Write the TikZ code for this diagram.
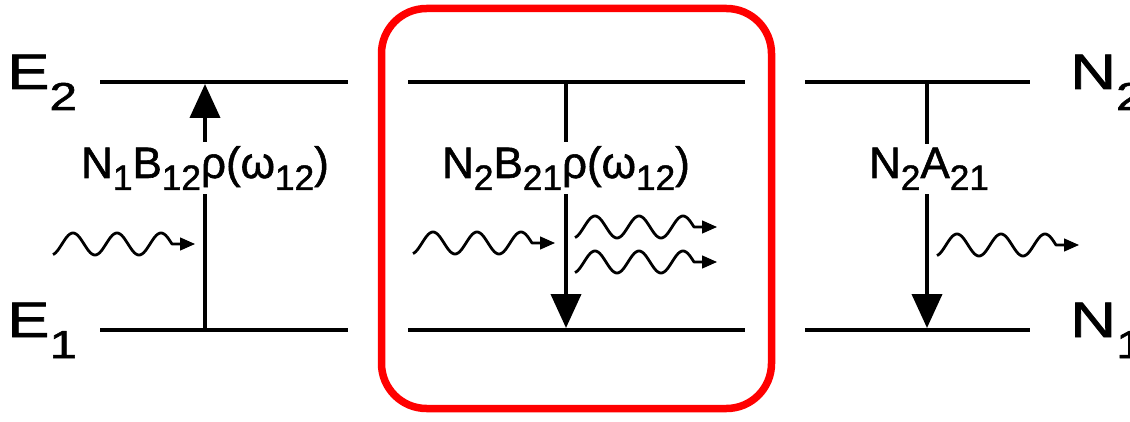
\documentclass[tikz,border=0pt]{standalone}
\usepackage{fontspec}
\setmainfont{Liberation Sans}[FakeBold=1.3]
\usetikzlibrary{arrows.meta}
\newcommand\lsub[1]{\raisebox{-0.27em}{\scalebox{0.8}{#1}}}
\newcommand\bsub[1]{\raisebox{-0.42em}{\scalebox{0.78}{#1}}}
\newcommand\photon[2]{%
  \draw[wave] plot[domain=0:119,samples=120] ({#1+\x},{#2-11*sin(8.1818*(\x-9))}) -- ({#1+128},{#2});
  \draw[wavetip] ({#1+126},{#2}) -- ({#1+142},{#2});
}
\tikzset{
  level/.style={line width=4pt},
  trans/.style={line width=4pt,-{Triangle[length=34pt,width=30pt]}},
  wave/.style={line width=2.8pt,line join=round},
  wavetip/.style={line width=1.4pt,-{Triangle[length=15pt,width=13pt]}},
  lbl/.style={fill=white,inner xsep=2pt,inner ysep=4pt,anchor=base,font=\fontsize{44}{50}\selectfont},
  big/.style={inner sep=0pt,anchor=base west,font=\fontsize{50}{56}\selectfont},
  box/.style={draw=red,line width=7.5pt,rounded corners=45pt}
}
\begin{document}
\begin{tikzpicture}[x=1pt,y=-1pt]
\useasboundingbox (0,0) rectangle (1130,422);
% red frame
\draw[box] (381.5,8.5) rectangle (771.5,408.5);
% level lines
\draw[level] (100,82) -- (348,82);
\draw[level] (100,330) -- (348,330);
\draw[level] (408,82) -- (745,82);
\draw[level] (408,330) -- (745,330);
\draw[level] (805,82) -- (1030,82);
\draw[level] (805,330) -- (1030,330);
% arrow end points
\coordinate (aLb) at (205,330);
\coordinate (aLt) at (205,84);
\coordinate (aMt) at (566,82);
\coordinate (aMb) at (566,328);
\coordinate (aRt) at (927,82);
\coordinate (aRb) at (927,328);
\draw[trans] (aLb) -- (aLt);
\draw[trans] (aMt) -- (aMb);
\draw[trans] (aRt) -- (aRb);
% labels
\node[lbl] (labL) at (205,178) {N\lsub{1}B\lsub{12}ρ(ω\lsub{12})};
\node[lbl] (labM) at (566,178) {N\lsub{2}B\lsub{21}ρ(ω\lsub{12})};
\node[lbl] (labR) at (929,178) {N\lsub{2}A\lsub{21}};
% level names
\node[big] (E2) at (7,89) {\scalebox{1.27}[1]{E\bsub{2}}};
\node[big] (E1) at (7,337) {\scalebox{1.27}[1]{E\bsub{1}}};
\node[big] (N2) at (1070,89) {\scalebox{1.27}[1]{N\bsub{2}}};
\node[big] (N1) at (1070,337) {\scalebox{1.27}[1]{N\bsub{1}}};
% photons
\photon{53}{244}
\photon{413}{243}
\photon{575}{227}
\photon{575}{262}
\photon{937}{245}
\end{tikzpicture}
\end{document}
